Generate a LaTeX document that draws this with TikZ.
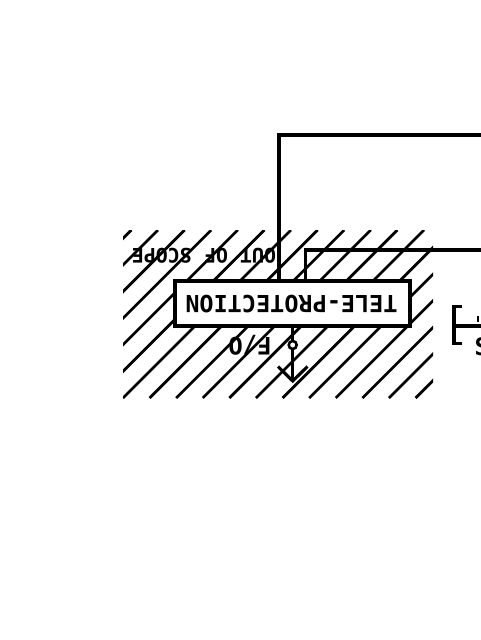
\documentclass[tikz,border=0pt]{standalone}
\usepackage{fontspec}
\newfontfamily\cadfont{DejaVu Sans Mono}
\tikzset{
  frameline/.style={line width=3.1pt},
  hatchline/.style={line width=2.7pt},
  upsidedown/.style={rotate=180, inner sep=0pt, text depth=0pt},
  cadtext/.style={font={\cadfont\bfseries\fontsize{#1}{#1}\selectfont}},
}
\begin{document}
\begin{tikzpicture}[x=1pt,y=-1pt]
\useasboundingbox[fill=white] (0,0) rectangle (480,640);
% hatched out-of-scope area
\begin{scope}
  \clip (123,230) rectangle (433,398);
  \foreach \k in {-6,...,11}{
    \pgfmathsetmacro\c{521+26.6*\k}
    \draw[hatchline] (\c-398,398) -- (\c-230,230);
  }
\end{scope}
% tele-protection box
\node[draw, frameline, fill=white, minimum width=235pt, minimum height=45pt, inner sep=0pt] (tp) at (292.5,303.5) {};
\node[upsidedown, cadtext=23.5, text height=17.1pt] (tptext) at (291.5,304) {TELE-PROTECTION};
\node[upsidedown, cadtext=20, text height=14.6pt] (oos) at (204,256) {OUT OF SCOPE};
\node[upsidedown, cadtext=24, text height=17.5pt] (fotext) at (250,346) {F/O};
% frame lines
\coordinate (c1) at (279,135);
\coordinate (e1) at (482,135);
\coordinate (c2) at (305.5,250);
\coordinate (e2) at (482,250);
\draw[frameline] (tp.north -| c1) -- (c1) -- (e1);
\draw[frameline] (tp.north -| c2) -- (c2) -- (e2);
% fibre optic connection
\node[circle, draw, line width=2.6pt, fill=white, minimum size=8pt, inner sep=0pt] (fo) at (292.7,345) {};
\coordinate (tip) at (292.7,381);
\coordinate (bl) at (278,366.5);
\coordinate (br) at (307.5,366.5);
\draw[frameline] (fo.north) -- (fo.north |- tp.south);
\draw[frameline] (fo.south) -- (tip);
\draw[frameline] (bl) -- (tip) -- (br);
% bracket at right edge
\coordinate (bt) at (462,306.5);
\coordinate (b1) at (454,306.5);
\coordinate (b2) at (454,343.5);
\coordinate (bb) at (462,343.5);
\coordinate (bm) at (454,326);
\coordinate (be) at (482,326);
\draw[frameline] (bt) -- (b1) -- (b2) -- (bb);
\draw[frameline] (bm) -- (be);
\begin{scope}
  \clip (440,300) rectangle (480,370);
  \node[cadtext=24, inner sep=0pt, anchor=west] (s) at (474.5,347) {S};
  \coordinate (m1) at (478,316);
  \coordinate (m2) at (478,322);
  \draw[line width=1.6pt] (m1) -- (m2);
\end{scope}
\end{tikzpicture}
\end{document}
